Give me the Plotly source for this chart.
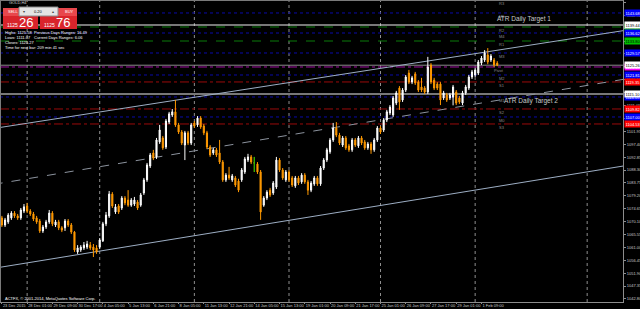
import plotly.graph_objects as go

# ---------------- data ----------------
opens = [1071.4, 1068.9, 1070.0, 1071.4, 1073.1, 1072.1, 1071.4, 1073.8, 1075.6, 1073.8,
         1072.8, 1071.4, 1070.3, 1066.8, 1068.2, 1070.0, 1073.1, 1068.9, 1070.0, 1067.9,
         1067.9, 1070.3, 1068.9, 1066.4, 1059.4, 1060.1, 1060.8, 1061.1, 1061.8, 1061.1,
         1060.8, 1061.1, 1063.3, 1069.3, 1072.1, 1079.8, 1073.5, 1075.6, 1074.9, 1078.4,
         1077.7, 1075.9, 1076.3, 1077.0, 1075.9, 1080.2, 1084.8, 1089.7, 1094.3, 1092.9,
         1098.2, 1099.6, 1096.4, 1105.2, 1107.7, 1108.8, 1104.2, 1101.7, 1097.1, 1101.4,
         1097.8, 1104.9, 1104.2, 1106.6, 1103.8, 1101.4, 1096.4, 1094.3, 1095.4, 1094.3,
         1091.1, 1084.8, 1086.5, 1084.8, 1085.5, 1084.4, 1084.8, 1087.6, 1091.8, 1092.9,
         1090.8, 1090.4, 1087.6, 1075.9, 1078.4, 1081.2, 1080.2, 1082.3, 1091.8, 1088.3,
         1084.8, 1087.6, 1085.5, 1082.7, 1085.5, 1084.1, 1086.5, 1084.1, 1081.2, 1083.4,
         1085.5, 1083.4, 1089.0, 1091.8, 1094.7, 1098.9, 1103.1, 1100.6, 1097.1, 1099.6,
         1096.8, 1095.4, 1098.9, 1096.8, 1099.6, 1098.2, 1096.1, 1097.5, 1095.4, 1098.9,
         1103.1, 1102.4, 1105.9, 1108.4, 1107.7, 1111.9, 1117.2, 1113.0, 1116.5, 1122.5,
         1119.3, 1122.2, 1119.3, 1117.6, 1117.2, 1115.8, 1125.3, 1120.0, 1118.6, 1118.6,
         1113.7, 1114.8, 1113.7, 1114.0, 1115.8, 1113.7, 1111.9, 1115.5, 1117.2, 1121.1,
         1121.8, 1122.5, 1126.0, 1127.1, 1128.9, 1127.1, 1127.1, 1126.0]
highs = [1072.1, 1071.4, 1073.1, 1073.8, 1073.8, 1072.8, 1074.9, 1076.3, 1076.7, 1074.5,
         1073.5, 1072.1, 1071.0, 1068.9, 1070.7, 1074.2, 1073.8, 1070.7, 1070.7, 1068.5,
         1071.0, 1071.0, 1069.6, 1066.8, 1061.8, 1061.8, 1062.9, 1063.3, 1062.9, 1062.2,
         1061.8, 1064.3, 1070.0, 1073.5, 1080.9, 1080.5, 1076.3, 1076.3, 1079.1, 1079.1,
         1081.2, 1078.4, 1078.8, 1077.7, 1080.2, 1085.5, 1090.8, 1094.3, 1095.4, 1099.6,
         1104.2, 1100.3, 1106.3, 1108.8, 1109.8, 1113.0, 1104.9, 1102.4, 1102.1, 1102.1,
         1104.9, 1105.6, 1107.3, 1107.3, 1104.5, 1102.1, 1097.1, 1096.1, 1096.1, 1098.9,
         1091.8, 1087.2, 1089.4, 1086.9, 1086.2, 1085.2, 1089.0, 1092.9, 1094.0, 1093.6,
         1092.9, 1091.1, 1088.3, 1079.1, 1081.2, 1082.0, 1084.4, 1092.9, 1092.5, 1089.0,
         1088.3, 1088.3, 1086.2, 1086.2, 1086.2, 1087.2, 1087.2, 1084.8, 1084.4, 1086.2,
         1086.2, 1089.7, 1092.5, 1096.1, 1099.6, 1104.9, 1105.2, 1101.4, 1100.3, 1100.3,
         1097.5, 1099.6, 1099.6, 1100.3, 1100.3, 1098.9, 1098.2, 1098.2, 1099.6, 1103.8,
         1103.8, 1106.6, 1109.5, 1111.2, 1114.4, 1116.2, 1117.9, 1117.2, 1121.8, 1123.6,
         1121.5, 1122.9, 1120.0, 1120.8, 1117.9, 1128.2, 1126.0, 1120.8, 1119.3, 1119.3,
         1116.2, 1115.5, 1115.5, 1118.3, 1116.5, 1114.4, 1116.2, 1118.3, 1121.8, 1123.6,
         1124.3, 1127.1, 1128.5, 1130.6, 1131.3, 1129.2, 1127.8, 1126.7]
lows = [1068.2, 1068.2, 1069.3, 1070.7, 1071.4, 1070.7, 1070.7, 1073.1, 1073.1, 1072.1,
        1070.3, 1069.3, 1066.1, 1066.1, 1067.5, 1069.3, 1068.5, 1068.2, 1067.1, 1066.4,
        1066.8, 1068.2, 1065.7, 1059.4, 1058.7, 1059.4, 1060.1, 1060.4, 1060.1, 1057.6,
        1058.7, 1060.4, 1062.9, 1068.5, 1071.4, 1074.9, 1072.8, 1072.8, 1074.2, 1075.9,
        1075.3, 1075.3, 1075.6, 1074.2, 1075.3, 1079.5, 1084.1, 1089.0, 1091.8, 1092.2,
        1097.5, 1095.4, 1095.7, 1104.5, 1107.0, 1103.5, 1101.0, 1097.1, 1091.8, 1097.1,
        1097.1, 1103.1, 1103.5, 1102.8, 1100.6, 1095.7, 1092.9, 1093.6, 1092.9, 1090.4,
        1084.1, 1084.1, 1084.8, 1084.1, 1082.3, 1080.5, 1084.1, 1086.9, 1091.1, 1090.4,
        1087.6, 1086.9, 1070.7, 1075.3, 1077.7, 1078.8, 1079.5, 1081.6, 1087.6, 1084.8,
        1084.1, 1084.1, 1082.3, 1082.0, 1083.0, 1083.4, 1083.4, 1079.5, 1080.5, 1082.7,
        1082.7, 1082.7, 1088.3, 1091.1, 1094.0, 1098.2, 1099.9, 1097.1, 1096.4, 1095.4,
        1094.7, 1094.7, 1096.4, 1096.1, 1097.1, 1095.4, 1095.4, 1094.0, 1094.7, 1098.2,
        1101.0, 1101.7, 1105.2, 1107.7, 1107.0, 1111.2, 1109.5, 1112.3, 1115.8, 1118.6,
        1118.6, 1118.3, 1115.8, 1115.8, 1115.1, 1115.1, 1118.6, 1116.5, 1116.5, 1111.2,
        1113.0, 1112.3, 1113.0, 1111.1, 1111.2, 1111.6, 1111.2, 1114.8, 1116.5, 1120.4,
        1121.1, 1121.8, 1125.3, 1126.4, 1125.6, 1126.4, 1124.6, 1124.9]
closes = [1068.9, 1070.7, 1072.4, 1073.1, 1072.1, 1071.4, 1074.2, 1075.3, 1073.8, 1072.8,
          1071.0, 1070.0, 1066.8, 1068.2, 1070.0, 1073.1, 1069.3, 1070.0, 1067.9, 1067.1,
          1070.3, 1068.9, 1066.4, 1060.1, 1060.8, 1061.1, 1061.8, 1062.2, 1060.8, 1060.1,
          1059.4, 1063.6, 1069.3, 1072.4, 1079.8, 1075.6, 1075.3, 1073.5, 1078.4, 1076.7,
          1075.9, 1077.7, 1077.7, 1074.9, 1079.5, 1084.8, 1090.1, 1093.6, 1092.5, 1098.9,
          1102.4, 1096.1, 1105.6, 1108.1, 1108.8, 1104.2, 1101.7, 1097.8, 1101.4, 1097.8,
          1104.2, 1103.8, 1106.6, 1103.5, 1101.4, 1096.4, 1093.6, 1095.4, 1093.6, 1091.1,
          1084.8, 1086.5, 1085.5, 1086.2, 1083.0, 1081.2, 1088.3, 1092.2, 1092.9, 1091.1,
          1090.8, 1087.6, 1073.5, 1078.4, 1080.5, 1079.5, 1083.7, 1091.8, 1088.3, 1085.5,
          1087.6, 1084.8, 1083.0, 1085.5, 1083.7, 1086.5, 1084.1, 1081.2, 1083.7, 1085.5,
          1083.4, 1089.0, 1091.8, 1095.4, 1098.9, 1103.1, 1100.6, 1097.8, 1099.6, 1096.1,
          1095.4, 1098.9, 1097.1, 1099.6, 1097.8, 1096.1, 1097.5, 1095.4, 1098.9, 1103.1,
          1101.7, 1105.9, 1108.8, 1110.5, 1113.7, 1115.5, 1112.3, 1116.5, 1121.1, 1119.3,
          1120.8, 1119.0, 1116.5, 1116.5, 1115.8, 1124.6, 1119.3, 1117.2, 1117.2, 1113.0,
          1115.5, 1113.0, 1114.8, 1117.6, 1111.9, 1112.3, 1115.5, 1117.6, 1121.1, 1122.9,
          1123.6, 1126.4, 1127.8, 1129.6, 1126.4, 1128.5, 1125.3, 1125.26]

time_labels = ["23 Dec 2015", "28 Dec 01:00", "29 Dec 09:00", "30 Dec 17:00", "4 Jan 05:00",
               "5 Jan 13:00", "6 Jan 21:00", "8 Jan 05:00", "11 Jan 13:00", "12 Jan 21:00",
               "14 Jan 05:00", "15 Jan 13:00", "19 Jan 01:00", "20 Jan 09:00", "21 Jan 17:00",
               "25 Jan 01:00", "26 Jan 09:00", "27 Jan 17:00", "29 Jan 01:00", "1 Feb 09:00"]
label_every = 8
week_starts = [8, 31, 61, 91, 120, 150]
extra_vline = [185.5]

ytick_start = 1042.80
ytick_step = 4.55
ytick_count = 24

piv_names = ["R3", "M5", "R2", "M4", "R1", "M3", "Pivot", "M2", "S1", "M1", "S2", "M0", "S3"]
piv_values = [1148.25, 1143.68, 1138.74, 1136.62, 1133.80, 1129.57, 1124.63, 1121.81,
              1119.35, 1114.05, 1109.82, 1107.00, 1104.53]

atr_names = ["ATR Daily Target 1", "ATR Daily Target 2"]
atr_values = [1139.44, 1115.10]

bid = 1125.26
ask = 1125.76
lot = "0.20"
info_left = ["Highs: 1125.58", "Lows: 1111.07", "Closes: 1125.27",
             "Time for next bar: 209 min 41 sec"]
info_right = ["Previous Days Ranges: 16.49", "Current Days Ranges: 6.06"]

channel_upper = [(0, 1103.40), (157, 1130.54)]
channel_mid = [(0, 1083.71), (157, 1112.85)]
channel_lower = [(0, 1054.09), (157, 1082.48)]

# ---------------- styling / layout ----------------
W, H = 640, 309
ML, MR, MT, MB = 0, 17, 0, 7
PW, PH = W - ML - MR, H - MT - MB
X_RANGE = [-0.602, 196.86]
Y_RANGE = [1041.74, 1148.26]

UP = "#FFFFFF"
DOWN = "#FF9900"
FONT = "Liberation Sans, Arial, sans-serif"
GRID = "#8C8C8C"


def px(x):
    return x / PW


def py(y):
    return 1 - y / PH


n = len(closes)
idx = list(range(n))

fig = go.Figure()
fig.add_trace(go.Candlestick(
    x=idx, open=opens, high=highs, low=lows, close=closes,
    increasing=dict(line=dict(color=UP, width=1), fillcolor=UP),
    decreasing=dict(line=dict(color=DOWN, width=1), fillcolor=DOWN),
    whiskerwidth=0, hoverinfo="skip", showlegend=False))

# doji bars drawn green
dx, dy = [], []
for i in idx:
    if opens[i] == closes[i]:
        dx += [i, i, None]
        dy += [lows[i], highs[i], None]
if dx:
    fig.add_trace(go.Scatter(x=dx, y=dy, mode="lines", line=dict(color="#00C000", width=1),
                             hoverinfo="skip", showlegend=False))

shapes = []
annotations = []


def extend(pts):
    (x0, y0), (x1, y1) = pts
    s = (y1 - y0) / (x1 - x0)
    a, b = X_RANGE[0] - 2, X_RANGE[1] + 2
    return a, y0 + s * (a - x0), b, y0 + s * (b - x0)


# period separators
for v in week_starts + extra_vline:
    shapes.append(dict(type="line", xref="x", yref="paper", x0=v, x1=v, y0=0, y1=1,
                       line=dict(color="#8E8E8E", width=1, dash="dot"), layer="below"))


# pivot levels
def piv_style(name):
    if name.startswith("M"):
        return "#0A0AA8", "dot", "#0000FF", "#FFFFFF"
    if name.startswith("R"):
        return "#0A7A0A", "dash", "#00C000", "#000000"
    if name.startswith("S"):
        return "#9A0A0A", "dashdot", "#FF0000", "#FFFFFF"
    return "#A010A0", "dashdot", "#FF00FF", "#FFFFFF"


for name, val in zip(piv_names, piv_values):
    lc, dash, bc, tc = piv_style(name)
    shapes.append(dict(type="line", xref="paper", yref="y", x0=0, x1=1, y0=val, y1=val,
                       line=dict(color=lc, width=1, dash=dash), layer="below"))
    annotations.append(dict(xref="paper", yref="y", x=px(497 if name != "Pivot" else 492),
                            y=val, yshift=-3.5, text=name, showarrow=False, xanchor="left",
                            yanchor="middle", font=dict(size=4, color="#8A8A8A", family=FONT)))

# ATR targets
for name, val in zip(atr_names, atr_values):
    shapes.append(dict(type="line", xref="paper", yref="y", x0=0, x1=1, y0=val, y1=val,
                       line=dict(color="#F0F0F0", width=1), layer="below"))
atr_text_pos = [(495, 19.5), (502, 101)]
for name, (tx, ty) in zip(atr_names, atr_text_pos):
    annotations.append(dict(xref="paper", yref="paper", x=px(tx), y=py(ty), text=name,
                            showarrow=False, xanchor="left", yanchor="middle",
                            font=dict(size=6.5, color="#C8C8C8", family=FONT)))

# bid line
shapes.append(dict(type="line", xref="paper", yref="y", x0=0, x1=1, y0=bid, y1=bid,
                   line=dict(color="#8A8A8A", width=1), layer="below"))

# channel
for pts, col, dash in [(channel_upper, "#9DAEC4", "solid"), (channel_mid, "#8C939E", "dash"),
                       (channel_lower, "#9DAEC4", "solid")]:
    a, ya, b, yb = extend(pts)
    shapes.append(dict(type="line", xref="x", yref="y", x0=a, y0=ya, x1=b, y1=yb,
                       line=dict(color=col, width=1, dash=dash), layer="below"))

# borders
shapes.append(dict(type="line", xref="paper", yref="paper", x0=0, x1=1, y0=1, y1=1,
                   line=dict(color="#7A7A7A", width=2)))
shapes.append(dict(type="line", xref="paper", yref="paper", x0=0, x1=0, y0=0, y1=1,
                   line=dict(color="#7A7A7A", width=2)))


# right axis boxes
def box(val, bg, fg):
    annotations.append(dict(xref="paper", yref="y", x=1, xshift=1, y=val, text=f"{val:.2f}",
                            showarrow=False, xanchor="left", yanchor="middle", align="left",
                            bgcolor=bg, borderpad=0.5, width=15,
                            font=dict(size=4, color=fg, family=FONT)))


for name, val in zip(piv_names, piv_values):
    if name == "R3":
        continue
    _, _, bc, tc = piv_style(name)
    box(val, bc, tc)
for val in atr_values:
    box(val, "#FFFFFF", "#000000")
box(bid, "#FFFFFF", "#000000")


# trade panel
def rect(x0, y0, x1, y1, fill, line=None):
    shapes.append(dict(type="rect", xref="paper", yref="paper", x0=px(x0), x1=px(x1),
                       y0=py(y1), y1=py(y0), fillcolor=fill,
                       line=dict(color=line or fill, width=1 if line else 0)))


rect(3, 8, 38, 29, "#D9242B")
rect(40, 8, 77, 29, "#D9242B")
rect(3, 8, 38, 16, "#E8474C")
rect(40, 8, 77, 16, "#E8474C")
rect(19, 7, 58, 16, "#E4E4E4", "#8A8A8A")


def txt(x, y, s, size=4, color="#FFFFFF", anchor="left"):
    annotations.append(dict(xref="paper", yref="paper", x=px(x), y=py(y), text=s,
                            showarrow=False, xanchor=anchor, yanchor="middle",
                            font=dict(size=size, color=color, family=FONT)))


big_b = f"{bid:.2f}".split(".")
big_a = f"{ask:.2f}".split(".")
txt(6, 12, "SELL")
txt(63, 12, "BUY")
txt(38.5, 11.5, lot, color="#000000", anchor="center")
txt(21, 11.5, "▾", color="#404040")
txt(56, 11.5, "▴", color="#404040", anchor="right")
txt(5, 25, big_b[0], size=5)
txt(17, 22.5, big_b[1], size=13)
txt(42, 25, big_a[0], size=5)
txt(54, 22.5, big_a[1], size=13)
txt(7, 2, "GOLD,H4", color="#D0D0D0")

for k, s in enumerate(info_left):
    txt(3, 32.7 + 5 * k, s)
for k, s in enumerate(info_right):
    txt(32, 32.7 + 5 * k, s)

txt(3, 298.5, "ACTFX, © 2001-2014, MetaQuotes Software Corp.")

yt = [round(ytick_start + k * ytick_step, 2) for k in range(ytick_count)]

fig.update_layout(
    width=W, height=H, template="none",
    margin=dict(l=ML, r=MR, t=MT, b=MB, pad=0),
    paper_bgcolor="#000000", plot_bgcolor="#000000",
    showlegend=False, hovermode=False, boxgap=0.5,
    shapes=shapes, annotations=annotations,
    font=dict(family=FONT, size=4, color="#C8C8C8"),
    xaxis=dict(range=X_RANGE, rangeslider=dict(visible=False), showgrid=False,
               zeroline=False, showline=True, linecolor=GRID, linewidth=1,
               tickvals=list(range(0, n, label_every)), ticktext=time_labels,
               tickangle=0, ticks="outside", ticklen=1, tickcolor=GRID,
               ticklabelposition="outside right", ticklabelstandoff=-1,
               tickfont=dict(size=4, color="#C8C8C8", family=FONT), automargin=False,
               fixedrange=True),
    yaxis=dict(range=Y_RANGE, side="right", showgrid=False, zeroline=False, showline=True,
               linecolor=GRID, linewidth=1, tickvals=yt, ticktext=[f"{v:.2f}" for v in yt],
               ticks="outside", ticklen=2, tickcolor=GRID,
               tickfont=dict(size=4, color="#C8C8C8", family=FONT), automargin=False,
               fixedrange=True),
)

fig.write_html("out.html", config={"displayModeBar": False})
